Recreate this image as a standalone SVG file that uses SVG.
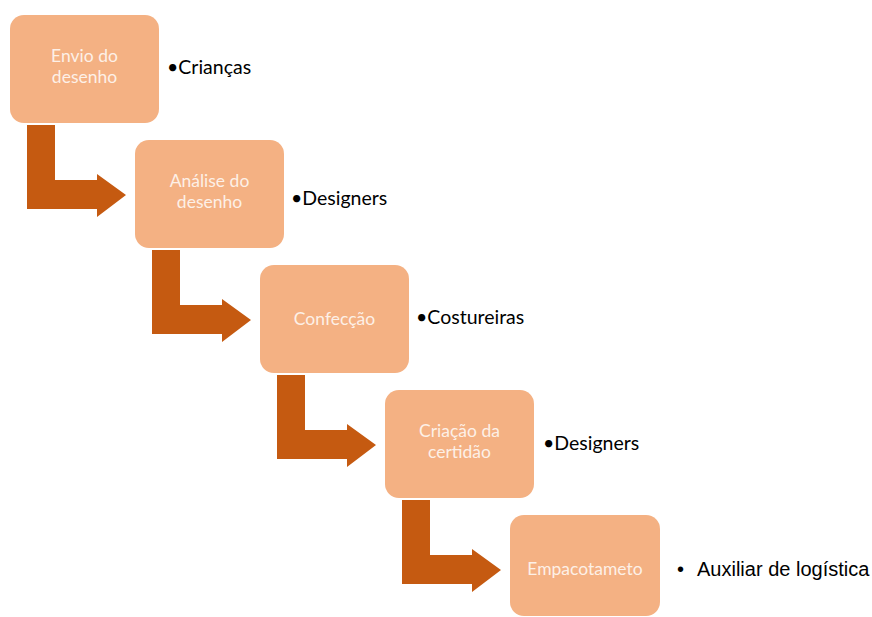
<svg xmlns="http://www.w3.org/2000/svg" width="872" height="617" viewBox="0 0 872 617">
<style>
.box{fill:#F4B183}
.arrow{fill:#C55A11}
.bt{font-family:Lato,"Open Sans",sans-serif;font-size:17.5px;fill:#FDF0E7;text-anchor:middle}
.lbl{font-family:Lato,"Open Sans",sans-serif;font-size:19.5px;fill:#000}
.lbl2{font-family:"Liberation Sans",Arial,sans-serif;font-size:20px;fill:#000}
</style>
<rect width="872" height="617" fill="#fff"/>
<g id="connectors">
<polygon class="arrow" points="27,125 55,125 55,180 97,180 97,174 126,195 97,217 97,209 27,209"/>
<polygon class="arrow" points="152,250 180,250 180,305 222,305 222,299 251,320 222,342 222,334 152,334"/>
<polygon class="arrow" points="277,375 305,375 305,430 347,430 347,424 376,445 347,467 347,459 277,459"/>
<polygon class="arrow" points="402,500 430,500 430,555 472,555 472,549 501,570 472,592 472,584 402,584"/>
</g>
<g id="n1"><rect class="box" x="10" y="15" width="149" height="108" rx="14"/><text class="bt" x="84.5" y="62">Envio do</text><text class="bt" x="84.5" y="83">desenho</text></g>
<g id="n2"><rect class="box" x="135" y="140" width="149" height="108" rx="14"/><text class="bt" x="209.5" y="187">Análise do</text><text class="bt" x="209.5" y="208">desenho</text></g>
<g id="n3"><rect class="box" x="260" y="265" width="149" height="108" rx="14"/><text class="bt" x="334.5" y="325">Confecção</text></g>
<g id="n4"><rect class="box" x="385" y="390" width="149" height="108" rx="14"/><text class="bt" x="459.5" y="437">Criação da</text><text class="bt" x="459.5" y="458">certidão</text></g>
<g id="n5"><rect class="box" x="510" y="515" width="150" height="101" rx="14"/><text class="bt" x="585" y="575">Empacotameto</text></g>
<g id="labels">
<text class="lbl" x="167" y="74">•Crianças</text>
<text class="lbl" x="291" y="205">•Designers</text>
<text class="lbl" x="416" y="324">•Costureiras</text>
<text class="lbl" x="543" y="450">•Designers</text>
<text class="lbl2" x="677" y="576">•</text>
<text class="lbl2" x="697" y="576">Auxiliar de logística</text>
</g>
</svg>
